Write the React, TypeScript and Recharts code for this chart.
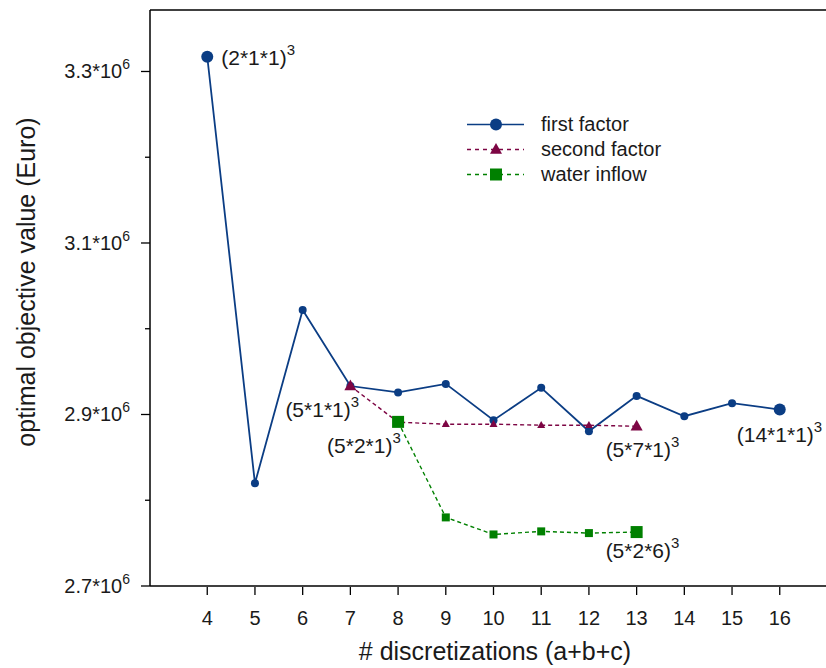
import React from "react"
import { LineChart, Line, XAxis, YAxis, Legend, ReferenceLine } from "recharts"

// number of discretizations (a+b+c)
const steps = [4, 5, 6, 7, 8, 9, 10, 11, 12, 13, 14, 15, 16]

// optimal objective value (Euro)
const firstFactor = [
  3317200, 2819700, 3021900, 2933200, 2925700, 2935700, 2893300, 2931100, 2880500, 2921700,
  2898000, 2913200, 2905800,
]
const secondFactor = [
  null, null, null, 2933200, 2891000, 2888700, 2888700, 2887500, 2887500, 2886300, null, null, null,
]
const waterInflow = [
  null, null, null, null, 2891400, 2780000, 2760100, 2763700, 2761700, 2762900, null, null, null,
]

// point annotations (base)^3
const firstLabels = ["(2*1*1)", "", "", "", "", "", "", "", "", "", "", "", "(14*1*1)"]
const secondLabels = ["", "", "", "(5*1*1)", "", "", "", "", "", "(5*7*1)", "", "", ""]
const waterLabels = ["", "", "", "", "(5*2*1)", "", "", "", "", "(5*2*6)", "", "", ""]

const yTicks = [2700000, 2800000, 2900000, 3000000, 3100000, 3200000, 3300000]
const yMajor = [2700000, 2900000, 3100000, 3300000]

const BLUE = "#0b3d84"
const PURPLE = "#7d0644"
const GREEN = "#008000"
const FONT = "'Liberation Sans', Arial, Helvetica, sans-serif"
const PLOT_LEFT = 150
const PLOT_BOTTOM = 586

const data = steps.map((s, i) => ({
  step: s,
  first: firstFactor[i],
  second: secondFactor[i],
  water: waterInflow[i],
}))

// label offsets from the marker, by series and index
const labelOffsets: Record<string, Record<number, [number, number]>> = {
  first: { 0: [14, 8], 12: [-43, 32] },
  second: { 3: [-65, 31], 9: [-31, 31] },
  water: { 4: [-71, 31], 9: [-31, 26] },
}

function Marker({ shape, cx, cy, size, color }: any) {
  if (shape === "circle") return <circle cx={cx} cy={cy} r={size / 2} fill={color} />
  if (shape === "square")
    return <rect x={cx - size / 2} y={cy - size / 2} width={size} height={size} fill={color} />
  const h = size * 0.9
  return (
    <polygon
      points={`${cx},${cy - h * 0.6} ${cx - size / 2},${cy + h * 0.4} ${cx + size / 2},${cy + h * 0.4}`}
      fill={color}
    />
  )
}

const makeDot = (series: string, shape: string, color: string, labels: string[]) => (props: any) => {
  const { cx, cy, index } = props
  if (cx == null || cy == null || Number.isNaN(cy)) return <g key={`${series}-${index}`} />
  const text = labels[index]
  const big = text !== ""
  const off = labelOffsets[series][index]
  return (
    <g key={`${series}-${index}`}>
      <Marker shape={shape} cx={cx} cy={cy} size={big ? 12 : 8} color={color} />
      {big && off && (
        <text x={cx + off[0]} y={cy + off[1]} fontSize={21} fill="#1a1a1a" fontFamily={FONT}>
          {text}
          <tspan dy={-10} fontSize={15}>3</tspan>
        </text>
      )}
    </g>
  )
}

function YTick({ y, payload }: any) {
  const v = payload.value
  const major = yMajor.includes(v)
  return (
    <g>
      <line x1={PLOT_LEFT - (major ? 9 : 5)} x2={PLOT_LEFT} y1={y} y2={y} stroke="#000" strokeWidth={1.3} />
      {major && (
        <text x={PLOT_LEFT - 20} y={y + 7} textAnchor="end" fontSize={20} fill="#1a1a1a" fontFamily={FONT}>
          {(v / 1e6).toFixed(1)}*10
          <tspan dy={-9} fontSize={14}>6</tspan>
        </text>
      )}
    </g>
  )
}

function XTick({ x, payload }: any) {
  return (
    <g>
      <line x1={x} x2={x} y1={PLOT_BOTTOM + 1} y2={PLOT_BOTTOM + 9} stroke="#000" strokeWidth={1.3} />
      <text x={x} y={625} textAnchor="middle" fontSize={20} fill="#1a1a1a" fontFamily={FONT}>
        {payload.value}
      </text>
    </g>
  )
}

function XTitle() {
  return (
    <text x={495} y={660} textAnchor="middle" fontSize={25} fill="#1a1a1a" fontFamily={FONT}>
      # discretizations (a+b+c)
    </text>
  )
}

function YTitle() {
  return (
    <text
      x={0}
      y={0}
      transform="translate(35, 282) rotate(-90)"
      textAnchor="middle"
      fontSize={25}
      fill="#1a1a1a"
      fontFamily={FONT}
    >
      optimal objective value (Euro)
    </text>
  )
}

const legendItems = [
  { name: "first factor", color: BLUE, shape: "circle", dash: undefined },
  { name: "second factor", color: PURPLE, shape: "triangle", dash: "4 4" },
  { name: "water inflow", color: GREEN, shape: "square", dash: "4 4" },
]

function LegendBox() {
  return (
    <div style={{ fontFamily: FONT, fontSize: 20, color: "#1a1a1a" }}>
      {legendItems.map((it) => (
        <div key={it.name} style={{ display: "flex", alignItems: "center", height: 25 }}>
          <svg width={64} height={25}>
            <line x1={5} x2={62} y1={12.5} y2={12.5} stroke={it.color} strokeWidth={1.6} strokeDasharray={it.dash} />
            <Marker shape={it.shape} cx={34} cy={12.5} size={12} color={it.color} />
          </svg>
          <span style={{ marginLeft: 15 }}>{it.name}</span>
        </div>
      ))}
    </div>
  )
}

export default function App() {
  return (
    <div
      style={{
        position: "fixed",
        left: 0,
        top: 0,
        width: 826,
        height: 668,
        overflow: "hidden",
        background: "#fff",
      }}
    >
      <LineChart width={840} height={668} data={data} margin={{ top: 10, right: 3, bottom: 30, left: 0 }}>
        <XAxis
          dataKey="step"
          type="number"
          domain={[2.8, 17.2]}
          ticks={steps}
          interval={0}
          height={52}
          axisLine={{ stroke: "#000", strokeWidth: 1.5 }}
          tickLine={false}
          tick={<XTick />}
          label={<XTitle />}
        />
        <YAxis
          type="number"
          domain={[2700000, 3371700]}
          ticks={yTicks}
          width={150}
          tickSize={0}
          axisLine={{ stroke: "#000", strokeWidth: 1.5 }}
          tickLine={false}
          tick={<YTick />}
          label={<YTitle />}
        />
        <ReferenceLine y={3371700} stroke="#000" strokeWidth={1.5} />
        <Line
          dataKey="first"
          stroke={BLUE}
          strokeWidth={1.8}
          dot={makeDot("first", "circle", BLUE, firstLabels)}
          isAnimationActive={false}
        />
        <Line
          dataKey="second"
          stroke={PURPLE}
          strokeWidth={1.4}
          strokeDasharray="4 3"
          dot={makeDot("second", "triangle", PURPLE, secondLabels)}
          isAnimationActive={false}
        />
        <Line
          dataKey="water"
          stroke={GREEN}
          strokeWidth={1.4}
          strokeDasharray="4 3"
          dot={makeDot("water", "square", GREEN, waterLabels)}
          isAnimationActive={false}
        />
        <Legend
          layout="horizontal"
          verticalAlign="middle"
          align="center"
          wrapperStyle={{ left: 462, top: 112, width: 260, height: 75 }}
          content={() => <LegendBox />}
        />
      </LineChart>
    </div>
  )
}
